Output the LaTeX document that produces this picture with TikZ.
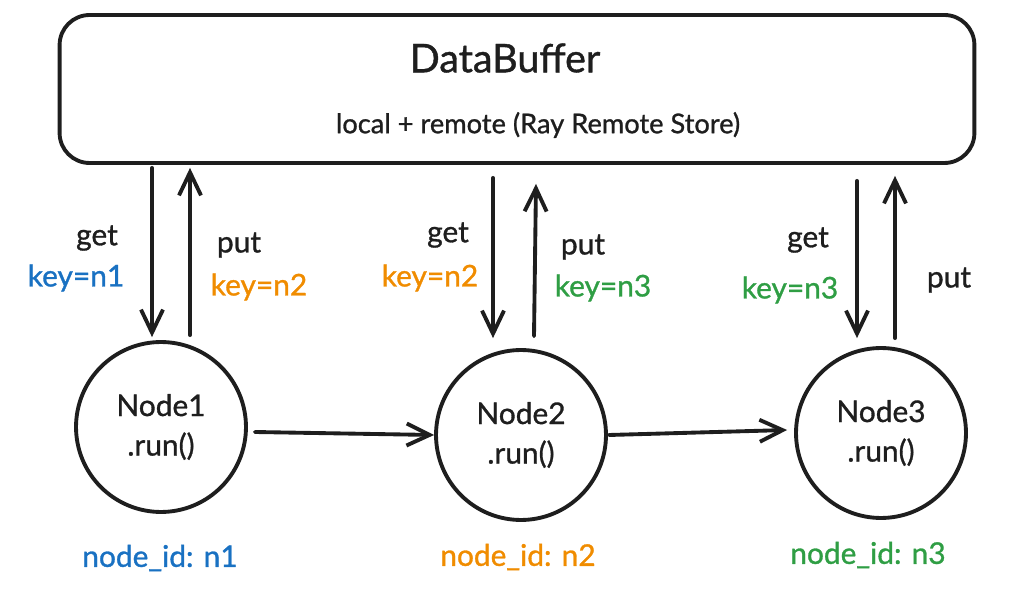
\documentclass[tikz,border=0pt]{standalone}
\usepackage{fontspec}
\setmainfont{Lato}[BoldFont=Lato, BoldFeatures={FakeBold=1}]
\usetikzlibrary{arrows.meta,positioning,calc}

\definecolor{ink}{HTML}{1E1E1E}
\definecolor{idblue}{HTML}{1971C2}
\definecolor{idorange}{HTML}{F08C00}
\definecolor{idgreen}{HTML}{2F9E44}

\begin{document}
\begin{tikzpicture}[
    x=0.02cm, y=-0.02cm,
    buffer/.style={rectangle, draw=ink, line width=2.2pt, rounded corners=0.6cm, minimum width=18.3cm, minimum height=2.96cm},
    worker/.style={circle, draw=ink, line width=2.2pt, minimum size=3.4cm, align=center, text=ink, font=\fontsize{17}{22.5}\selectfont\bfseries},
    title/.style={text=ink, font=\fontsize{22.5}{27}\selectfont\bfseries},
    subtitle/.style={text=ink, font=\fontsize{15.5}{19}\selectfont\bfseries},
    lbl/.style={text=ink, inner sep=0pt, font=\fontsize{17}{20}\selectfont\bfseries},
    arrow/.style={-{Straight Barb[length=0.46cm, width=0.44cm]}, line width=2.2pt, line cap=round, ink}
    ]
    \useasboundingbox (0,0) rectangle (1024,594);

    % Shared buffer
    \node[buffer] (buffer) at (517,89) {};
    \node[title] (bufname) at (505,58) {DataBuffer};
    \node[subtitle] (bufnote) at (538,125) {local + remote (Ray Remote Store)};

    % Worker nodes
    \node[worker] (n1) at (161,427) {Node1\\.run()};
    \node[worker] (n2) at (521,435) {Node2\\.run()};
    \node[worker] (n3) at (881,433) {Node3\\.run()};

    % Pipeline arrows
    \draw[arrow] ($(n1.east)+(7,5)$) -- (n2.west);
    \draw[arrow] ($(n2.east)+(1,0)$) -- ($(n3.west)+(-7,-3)$);

    % get / put arrows
    \draw[arrow] ($(n1.north |- buffer.south)+(-9,3)$) -- ($(n1.north)+(-9,-3)$);
    \draw[arrow] ($(n1.north)+(29,-5)$) -- ($(n1.north |- buffer.south)+(29,3)$);
    \draw[arrow] ($(n2.north |- buffer.south)+(-28,13)$) -- ($(n2.north)+(-28,-10)$);
    \draw[arrow] ($(n2.north)+(13,-12)$) -- ($(n2.north |- buffer.south)+(15,19)$);
    \draw[arrow] ($(n3.north |- buffer.south)+(-24,16)$) -- ($(n3.north)+(-24,-8)$);
    \draw[arrow] ($(n3.north)+(14,-8)$) -- ($(n3.north |- buffer.south)+(14,11)$);

    % Labels
    \node[lbl] (get1) at (97,238) {get};
    \node[lbl, text=idblue] (key1) at (76,278) {key=n1};
    \node[lbl] (put1) at (239,245) {put};
    \node[lbl, text=idorange] (key2a) at (259,287) {key=n2};

    \node[lbl] (get2) at (448,235) {get};
    \node[lbl, text=idorange] (key2b) at (430,278) {key=n2};
    \node[lbl] (put2) at (583,247) {put};
    \node[lbl, text=idgreen] (key3a) at (603,288) {key=n3};

    \node[lbl] (get3) at (808,240) {get};
    \node[lbl, text=idgreen] (key3b) at (790,290) {key=n3};
    \node[lbl] (put3) at (949,280) {put};

    % Node ids
    \node[lbl, text=idblue] (id1) at (160,558) {node\_id: n1};
    \node[lbl, text=idorange] (id2) at (518,557) {node\_id: n2};
    \node[lbl, text=idgreen] (id3) at (868,555) {node\_id: n3};

\end{tikzpicture}
\end{document}
